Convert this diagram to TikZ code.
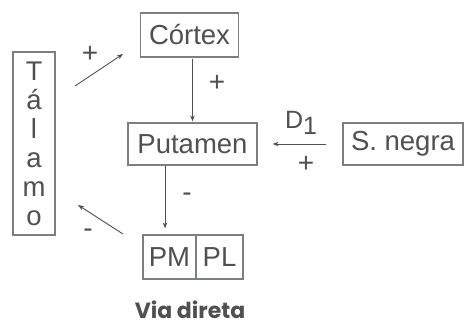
\documentclass[tikz,border=0pt]{standalone}
\usepackage{fontspec}
\setmainfont{Liberation Sans}
\newfontfamily\viafont{Poppins}[BoldFont={Poppins Bold}]
\usetikzlibrary{arrows.meta}
\definecolor{txt}{HTML}{505050}
\definecolor{boxc}{HTML}{7A7F80}
\tikzset{
  bx/.style={draw=boxc, line width=1.2pt, inner sep=0pt, text=txt, font=\fontsize{27.5}{29}\selectfont},
  arr/.style={draw=txt, line width=0.9pt, -{Stealth[length=6pt,width=4.5pt]}},
  lbl/.style={text=txt, font=\fontsize{28}{30}\selectfont, inner sep=0pt}
}
\begin{document}
\begin{tikzpicture}[x=1pt,y=-1pt]
\useasboundingbox[fill=white] (0,0) rectangle (465,325);
\node[bx, minimum width=98pt, minimum height=44pt] (cortex) at (189.5,35) {Córtex};
\node[bx, minimum width=42pt, minimum height=183pt, align=center] (talamo) at (34,143.5)
  {\fontsize{27}{28.5}\selectfont T\\á\\l\\a\\m\\o};
\node[bx, minimum width=129pt, minimum height=42pt] (putamen) at (192.5,144) {Putamen};
\node[bx, minimum width=120pt, minimum height=42pt] (snegra) at (403,144) {S. negra};
\node[bx, minimum width=53pt, minimum height=44pt] (pm) at (169.5,257) {PM};
\node[bx, minimum width=47pt, minimum height=44pt] (pl) at (219.5,257) {PL};
\node[text=txt, font=\viafont\bfseries\fontsize{22}{24}\selectfont, inner sep=0pt] (via) at (190,310) {Via direta};

\coordinate (t1) at (75,86);
\coordinate (c1) at (123,54);
\draw[arr] (t1) -- (c1);
\node[lbl] (p1) at (90,54) {+};

\draw[arr, shorten <=1pt, shorten >=1pt] (cortex.south -| putamen.north) -- (putamen.north);
\node[lbl] (p2) at (217,83) {+};

\draw[arr, shorten >=6pt] (putamen.south -| 165,0) -- (pm.north -| 165,0);
\node[lbl] (m1) at (187,197) {-};

\coordinate (pm1) at (123,234);
\coordinate (t2) at (78,205);
\draw[arr] (pm1) -- (t2);
\node[lbl] (m2) at (88,233) {-};

\draw[arr, shorten <=16pt, shorten >=15pt] (snegra.west) -- (putamen.east);
\node[text=txt, inner sep=0pt] (d1) at (301,123) {\fontsize{25}{27}\selectfont D\raisebox{-6pt}{1}};
\node[lbl] (p3) at (306,164) {+};
\end{tikzpicture}
\end{document}
